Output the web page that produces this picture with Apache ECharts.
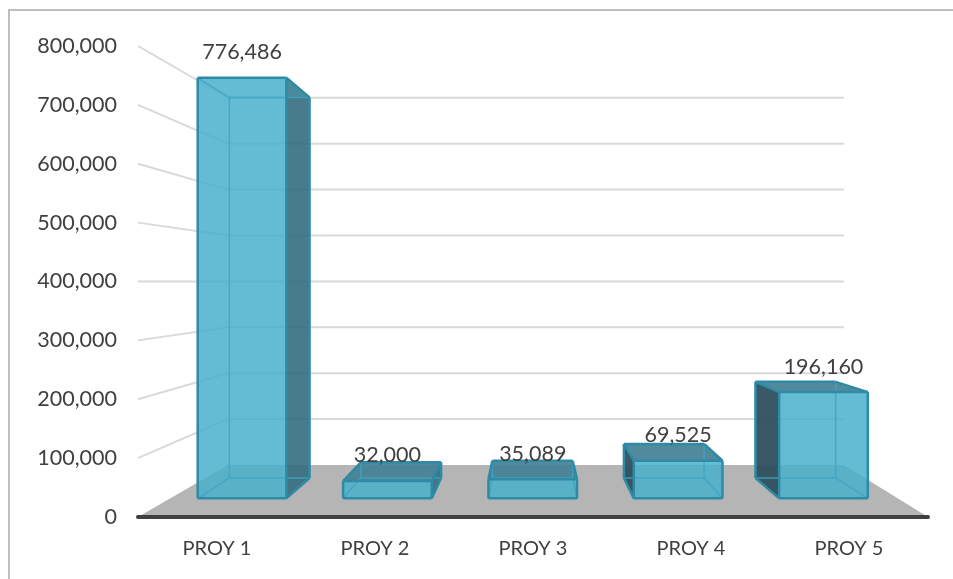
<!DOCTYPE html>
<html>
<head>
<meta charset="utf-8">
<style>
  html, body { margin: 0; padding: 0; background: #fff; }
  #main { width: 953px; height: 579px; }
</style>
<script src="https://cdn.jsdelivr.net/npm/echarts@6/dist/echarts.min.js"></script>
</head>
<body>
<div id="main"></div>
<script>
var categories = ['PROY 1', 'PROY 2', 'PROY 3', 'PROY 4', 'PROY 5'];
var values = [776486, 32000, 35089, 69525, 196160];
var yTicks = [0, 100000, 200000, 300000, 400000, 500000, 600000, 700000, 800000];

// fake 3D: everything is scaled towards a point, scale 1 = front edge of the floor
var wallVp = [546, 281];
var wallScale = 0.7795;
var barVp = [530, 284];
var barFront = 0.92;
var barBack = 0.8325;
var barRatio = 0.61;

var FONT = 'Lato, "Open Sans", sans-serif';

function project(p, s, vp) {
    return [vp[0] + s * (p[0] - vp[0]), vp[1] + s * (p[1] - vp[1])];
}

function renderWall(params, api) {
    var v = api.value(0);
    var cs = params.coordSys;
    var y = api.coord([0, v])[1];
    var l = [cs.x, y];
    var r = [cs.x + cs.width, y];
    var lb = project(l, wallScale, wallVp);
    var rb = project(r, wallScale, wallVp);
    if (v === 0) {
        return {
            type: 'polygon',
            shape: { points: [l, lb, rb, r] },
            style: { fill: '#b5b5b5' }
        };
    }
    return {
        type: 'polyline',
        shape: { points: [l, lb, rb] },
        style: { stroke: '#d9d9d9', lineWidth: 2, fill: 'none' }
    };
}

function face(points, fill) {
    return { type: 'polygon', shape: { points: points }, style: { fill: fill } };
}

function edge(a, b, seen) {
    return {
        type: 'line',
        shape: { x1: a[0], y1: a[1], x2: b[0], y2: b[1] },
        style: {
            stroke: seen ? '#2f8aa6' : 'rgba(62,165,195,0.85)',
            lineWidth: seen ? 2.5 : 1.5
        }
    };
}

function renderBar(params, api) {
    var i = api.value(0);
    var v = api.value(1);
    var top = api.coord([i, v]);
    var base = api.coord([i, 0]);
    var half = api.size([1, 0])[0] * barRatio / 2;

    var corners = function (s) {
        return {
            lt: project([top[0] - half, top[1]], s, barVp),
            rt: project([top[0] + half, top[1]], s, barVp),
            lb: project([top[0] - half, base[1]], s, barVp),
            rb: project([top[0] + half, base[1]], s, barVp)
        };
    };
    var f = corners(barFront);
    var b = corners(barBack);

    var glass = 'rgba(72,176,204,0.25)';
    var front = 'rgba(72,176,204,0.80)';

    // sides are dark only when they face the camera
    var rightSeen = b.rb[0] > f.rb[0];
    var leftSeen = b.lb[0] < f.lb[0];
    var topSeen = b.lt[1] < f.lt[1];

    var children = [
        face([b.lt, b.rt, b.rb, b.lb], glass),
        face([f.lb, f.rb, b.rb, b.lb], glass),
        face([f.lt, f.lb, b.lb, b.lt], leftSeen ? 'rgba(44,78,90,0.93)' : glass),
        face([f.rt, f.rb, b.rb, b.rt], rightSeen ? 'rgba(52,108,126,0.88)' : glass),
        face([f.lt, f.rt, b.rt, b.lt], topSeen ? 'rgba(66,128,148,0.90)' : glass),
        face([f.lt, f.rt, f.rb, f.lb], front),

        // back edges first, then the outline
        edge(b.lb, b.rb, false),
        edge(f.lb, b.lb, leftSeen),
        edge(f.rb, b.rb, rightSeen),
        edge(b.lt, b.lb, leftSeen),
        edge(b.rt, b.rb, rightSeen),
        edge(b.lt, b.rt, topSeen),
        edge(f.lt, b.lt, leftSeen || topSeen),
        edge(f.rt, b.rt, rightSeen || topSeen),
        edge(f.lt, f.rt, true),
        edge(f.rt, f.rb, true),
        edge(f.rb, f.lb, true),
        edge(f.lb, f.lt, true),
        {
            type: 'text',
            x: (f.lt[0] + f.rt[0]) / 2,
            y: f.lt[1] - 25.5,
            z2: 10,
            style: {
                text: v.toLocaleString('en-US'),
                fontSize: 21.5,
                fontFamily: FONT,
                fill: '#404040',
                align: 'center',
                verticalAlign: 'middle'
            }
        }
    ];
    return { type: 'group', children: children };
}

var chart = echarts.init(document.getElementById('main'));
chart.setOption({
    animation: false,
    backgroundColor: '#fff',
    grid: { left: 138, right: 25, top: 46, bottom: 62 },
    graphic: [
        {
            type: 'polyline',
            silent: true,
            shape: { points: [[9, 579], [9, 10], [953, 10]] },
            style: { stroke: '#bfbfbf', lineWidth: 2, fill: 'none' }
        }
    ],
    xAxis: {
        type: 'category',
        data: categories,
        z: 5,
        axisTick: { show: false },
        axisLine: { lineStyle: { color: '#404040', width: 4 } },
        axisLabel: { color: '#404040', fontSize: 20, fontFamily: FONT, margin: 22 }
    },
    yAxis: {
        type: 'value',
        min: 0,
        max: 800000,
        interval: 100000,
        axisLine: { show: false },
        axisTick: { show: false },
        splitLine: { show: false },
        axisLabel: {
            color: '#404040',
            fontSize: 21.5,
            fontFamily: FONT,
            margin: 21,
            padding: [2, 0, 0, 0],
            formatter: function (v) { return v.toLocaleString('en-US'); }
        }
    },
    series: [
        {
            type: 'custom',
            silent: true,
            clip: false,
            z: 1,
            encode: { y: 0 },
            data: yTicks.map(function (t) { return [t]; }),
            renderItem: renderWall
        },
        {
            type: 'custom',
            silent: true,
            clip: false,
            z: 3,
            encode: { x: 0, y: 1 },
            data: values.map(function (v, i) { return [i, v]; }),
            renderItem: renderBar
        }
    ]
});
</script>
</body>
</html>
